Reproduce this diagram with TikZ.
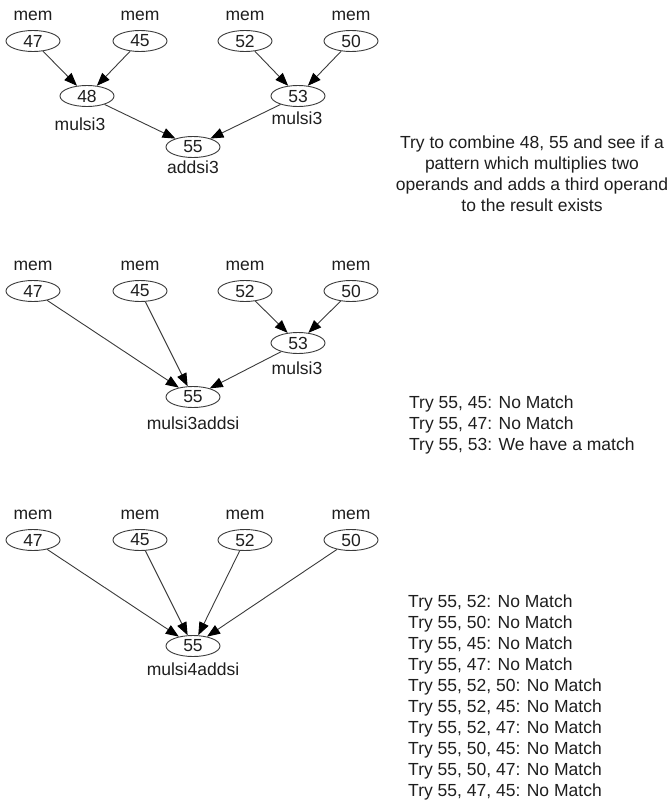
\documentclass[tikz,border=0pt]{standalone}
\usepackage{fontspec}
\setmainfont{Liberation Sans}
\usetikzlibrary{arrows.meta,shapes.geometric}
\definecolor{edgegray}{HTML}{3A3A3A}
\definecolor{inkgray}{HTML}{1E1E1E}
\begin{document}
\begin{tikzpicture}[x=1pt,y=-1pt,
  every node/.style={font=\fontsize{17.5}{21}\selectfont, text=inkgray},
  val/.style={draw=edgegray, line width=0.9pt, ellipse, minimum width=54pt,
              minimum height=21pt, inner sep=0pt},
  lbl/.style={anchor=base, inner sep=0pt},
  txt/.style={anchor=base west, inner sep=0pt},
  link/.style={draw=edgegray, line width=0.9pt,
               -{Triangle[length=13pt,width=10pt,fill=black,color=black]}}
]
\useasboundingbox (0,0) rectangle (669,803);

% ---------- first tree: mulsi3 + mulsi3 -> addsi3 ----------
\foreach \x/\v in {33/47,140/45,245/52,351/50} {
  \node[lbl] (am\v) at (\x,20) {mem};
  \node[val] (a\v) at (\x,41) {\v};
}
\node[val] (a48) at (87,96) {48};
\node[val] (a53) at (298,96) {53};
\node[val] (a55) at (193,147) {55};
\node[lbl] (al48) at (80,130) {mulsi3};
\node[lbl] (al53) at (297,124) {mulsi3};
\node[lbl] (al55) at (193,173) {addsi3};
\draw[link] (a47) -- (a48);
\draw[link] (a45) -- (a48);
\draw[link] (a52) -- (a53);
\draw[link] (a50) -- (a53);
\draw[link] (a48) -- (a55);
\draw[link] (a53) -- (a55);

\node[lbl] (ta) at (532,148) {Try to combine 48, 55 and see if a};
\node[lbl] (tb) at (532,169) {pattern which multiplies two};
\node[lbl] (tc) at (532,190) {operands and adds a third operand};
\node[lbl] (td) at (532,211) {to the result exists};

% ---------- second tree: combined into mulsi3addsi ----------
\foreach \x/\v in {33/47,140/45,245/52,351/50} {
  \node[lbl] (bm\v) at (\x,270) {mem};
  \node[val] (b\v) at (\x,291) {\v};
}
\node[val] (b53) at (298,343) {53};
\node[val] (b55) at (193,397) {55};
\node[lbl] (bl53) at (297,374) {mulsi3};
\node[lbl] (bl55) at (193,429) {mulsi3addsi};
\draw[link] (b47) -- (b55);
\draw[link] (b45) -- (b55);
\draw[link] (b52) -- (b53);
\draw[link] (b50) -- (b53);
\draw[link] (b53) -- (b55);

\node[txt] (ua) at (409,408) {Try 55, 45: No Match};
\node[txt] (ub) at (409,429) {Try 55, 47: No Match};
\node[txt] (uc) at (409,450) {Try 55, 53: We have a match};

% ---------- third tree: mulsi4addsi ----------
\foreach \x/\v in {33/47,140/45,245/52,351/50} {
  \node[lbl] (cm\v) at (\x,519) {mem};
  \node[val] (c\v) at (\x,540) {\v};
}
\node[val] (c55) at (193,646) {55};
\node[lbl] (cl55) at (193,675) {mulsi4addsi};
\foreach \v in {47,45,52,50}
  \draw[link] (c\v) -- (c55);

\foreach \t [count=\i from 0] in {{55, 52},{55, 50},{55, 45},{55, 47},{55, 52, 50},
    {55, 52, 45},{55, 52, 47},{55, 50, 45},{55, 50, 47},{55, 47, 45}}
  \node[txt] (v\i) at (408,{607+21.1*\i}) {Try \t: No Match};
\end{tikzpicture}
\end{document}
